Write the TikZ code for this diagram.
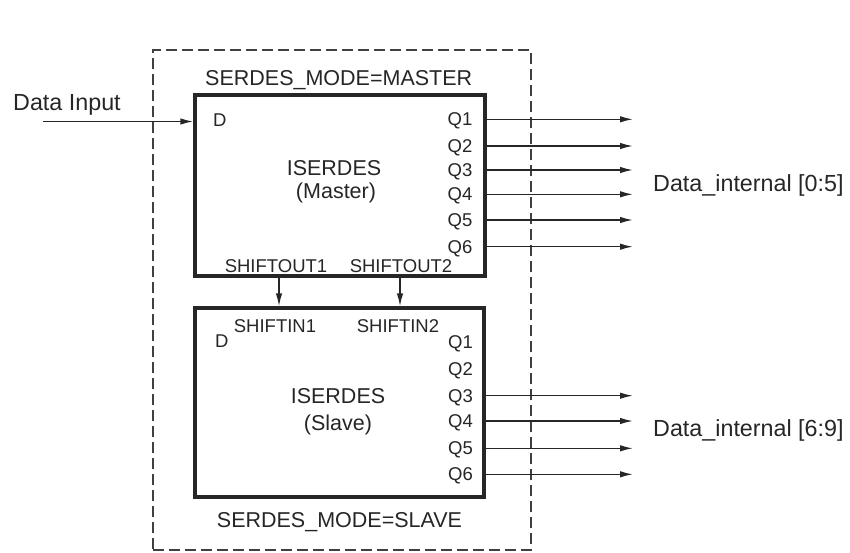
\documentclass[tikz,border=0pt]{standalone}
\usepackage{fontspec}
\setmainfont{Liberation Sans}
\usetikzlibrary{arrows.meta}
\begin{document}
\begin{tikzpicture}[x=1pt,y=-1pt,
  lbl/.style={inner sep=0pt, text=black!85, font=\fontsize{21.5}{24}\selectfont},
  biglbl/.style={inner sep=0pt, text=black!85, font=\fontsize{23.3}{26}\selectfont},
  pinlbl/.style={inner sep=0pt, text=black!85, font=\fontsize{18.5}{21}\selectfont},
  blk/.style={draw=black!85, line width=3.3pt, inner sep=0pt},
  frm/.style={draw=black!75, line width=1.5pt, dash pattern=on 11pt off 5pt, inner sep=0pt},
  sig/.style={draw=black!85, line width=1.5pt, -{Latex[length=13pt,width=6.5pt]}},
]
\useasboundingbox (0,0) rectangle (850,552);

% dashed frame
\node[frm, minimum width=378pt, minimum height=500pt] (frame) at (342,300) {};

% blocks
\node[blk, minimum width=290pt, minimum height=181pt] (master) at (340,185.5) {};
\node[blk, minimum width=289pt, minimum height=189pt] (slave) at (339.5,402.5) {};

% titles
\node[lbl, anchor=base west] (mtitle) at (205,85) {SERDES\_MODE=MASTER};
\node[lbl, anchor=base] (stitle) at (339.5,527) {SERDES\_MODE=SLAVE};
\node[lbl, anchor=base] (mname) at (334,175) {ISERDES};
\node[lbl, anchor=base] (mrole) at (336,198) {(Master)};
\node[lbl, anchor=base] (sname) at (338,403) {ISERDES};
\node[lbl, anchor=base] (srole) at (338,430) {(Slave)};

% data input
\node[biglbl, anchor=base west] (din) at (13,110) {Data Input};
\coordinate (dstart) at (43,121.5);
\node[pinlbl, anchor=base west] (md) at (213,126) {D};
\draw[sig] (dstart) -- (dstart -| master.west);

% master outputs
\foreach \i/\y in {1/119.3,2/146,3/170,4/194.3,5/220,6/246.7}{
  \node[pinlbl, anchor=base east] (mq\i) at (472.5,\y+6.6) {Q\i};
  \coordinate (mo\i) at (633,\y);
  \draw[sig] (mo\i -| master.east) -- (mo\i);
}
\node[biglbl, anchor=base west] (dint0) at (653,191.5) {Data\_internal [0:5]};

% shift connections
\node[pinlbl, anchor=base] (so1) at (276,272) {SHIFTOUT1};
\node[pinlbl, anchor=base] (so2) at (401,272) {SHIFTOUT2};
\node[pinlbl, anchor=base] (si1) at (275,332) {SHIFTIN1};
\node[pinlbl, anchor=base] (si2) at (398,332) {SHIFTIN2};
\coordinate (sx1) at (279,0);
\coordinate (sx2) at (400,0);
\draw[sig] (sx1 |- master.south) -- (sx1 |- slave.north);
\draw[sig] (sx2 |- master.south) -- (sx2 |- slave.north);

% slave pins
\node[pinlbl, anchor=base west] (sd) at (215,347) {D};
\foreach \i/\y in {1/342,2/368.5,3/395.7,4/421,5/448.3,6/474.3}{
  \node[pinlbl, anchor=base east] (sq\i) at (473,\y+6.6) {Q\i};
}
\foreach \i/\y in {3/395.7,4/421,5/448.3,6/474.3}{
  \coordinate (so\i) at (633,\y);
  \draw[sig] (so\i -| slave.east) -- (so\i);
}
\node[biglbl, anchor=base west] (dint1) at (653,436) {Data\_internal [6:9]};
\end{tikzpicture}
\end{document}
